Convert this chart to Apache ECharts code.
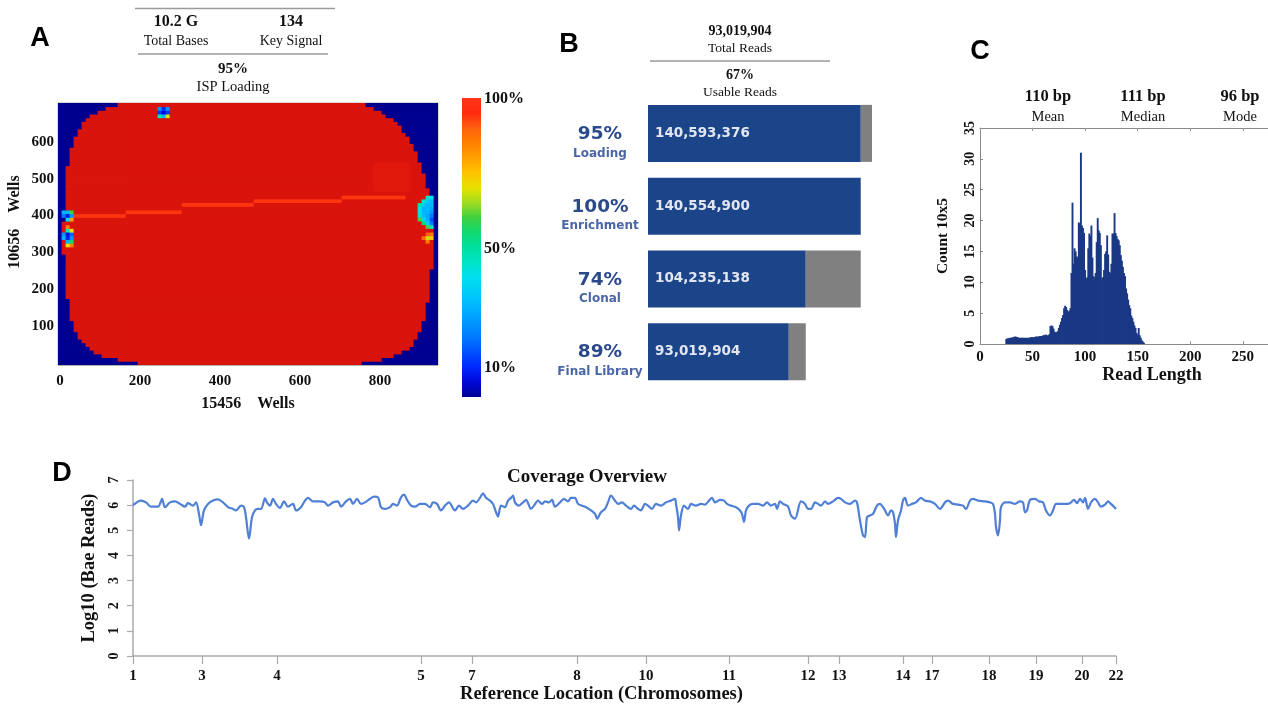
<!DOCTYPE html>
<html><head><meta charset="utf-8">
<script src="https://cdn.jsdelivr.net/npm/echarts@6/dist/echarts.min.js"></script>
<style>html,body{margin:0;padding:0;background:#fff}#c{width:1268px;height:705px}</style>
</head><body><div id="c"></div>
<script>
// ---------------- Panel A: ISP loading map ----------------
const statsA = [['10.2 G', 'Total Bases'], ['134', 'Key Signal']];
const ispLoading = ['95%', 'ISP Loading'];
// red (loaded) extent of each row of wells, rows y = 0,10,...,700
const rowLeft = [200,150,115,92,78,67,58,52,47,43, 40,37,34,32,30,28,27,26,25,24,
  23,22,21,20,19,18,17,17,16,16, 15,15,15,15,15,15,15,15,15,16,
  16,17,17,18,18,19,19,20,20,21, 22,23,24,25,26,27,29,31,33,36,
  39,43,47,52,58,65,74,85,100,122, 155];
const rowRight = [760,805,838,860,875,885,892,898,902,906, 909,912,915,917,919,921,923,925,927,928,
  929,930,931,932,933,934,935,935,936,936, 936,936,936,936,936,936,936,936,936,936,
  936,936,935,934,932,930,928,926,924,922, 920,917,914,911,908,904,900,896,892,887,
  882,876,870,863,855,846,836,824,810,793, 770];
const fillValue = 98.5, backValue = 0;
const streaks = [[40,160,400],[170,300,410],[310,480,430],[490,700,440],[710,860,450]];
const streakValue = 94;
const brightPatches = [[790,870,470,540]];
const brightValue = 97.7;
const spots = [
  [250,690,25],[260,690,10],[270,690,25],[250,680,12],[260,680,5],[270,680,12],[250,670,45],[260,670,30],[270,670,70],
  [10,410,30],[20,410,30],[30,410,60],[10,400,20],[20,400,8],[30,400,25],[20,390,40],[30,390,80],[20,370,85],
  [20,360,45],[30,360,70],[10,350,25],[20,350,6],[30,350,18],[10,340,30],[20,340,8],[30,340,25],
  [20,330,30],[30,330,55],[20,320,70],[30,320,85],
  [920,450,45],[930,450,40],[910,440,45],[920,440,35],[930,440,30],
  [900,430,50],[910,430,35],[920,430,30],[930,430,30],[900,420,40],[910,420,30],[920,420,32],[930,420,28],
  [900,410,40],[910,410,30],[920,410,30],[930,410,25],[900,400,45],[910,400,32],[920,400,28],[930,400,20],
  [900,390,60],[910,390,38],[920,390,30],[930,390,15],[910,380,55],[920,380,35],[930,380,20],[920,370,60],[930,370,45],
  [920,340,68],[930,340,75],[910,340,88],[920,330,85],[930,350,85],[920,350,90]
];
const colorbarTicks = [[100,'100%'],[50,'50%'],[10,'10%']];

// ---------------- Panel B: read funnel ----------------
const statsB = [['93,019,904', 'Total Reads'], ['67%', 'Usable Reads']];
const stageNames = ['Loading', 'Enrichment', 'Clonal', 'Final Library'];
const stagePct = ['95%', '100%', '74%', '89%'];
const stageKept = [140593376, 140554900, 104235138, 93019904];
const stageLost = [7399651, 38476, 36319762, 11215234];

// ---------------- Panel C: read length histogram ----------------
const statsC = [['110 bp', 'Mean'], ['111 bp', 'Median'], ['96 bp', 'Mode']];
const readLenStart = 25;
const readCounts = [
  0.8,0.9,0.9,1.0,1.0,1.0,1.1,1.1,1.2,1.2,
  1.1,1.1,1.0,1.0,1.0,1.0,1.0,1.0,1.0,1.0,
  1.0,1.0,1.0,1.1,1.1,1.1,1.1,1.1,1.2,1.2,
  1.2,1.2,1.3,1.3,1.3,1.4,1.4,1.5,1.5,1.4,
  1.4,1.6,2.9,3.0,2.9,2.5,2.0,1.9,1.9,2.1,
  2.6,3.1,3.6,4.2,4.7,5.8,6.2,6.0,5.5,5.2,
  5.4,5.8,11.5,22.9,13.0,15.5,15.0,14.2,14.0,19.7,
  19.5,31.0,19.2,18.8,18.0,12.0,10.6,10.8,15.5,17.9,
  17.5,19.2,14.0,11.0,10.8,11.5,16.5,20.4,18.4,18.0,
  16.0,10.6,10.8,12.0,14.6,15.0,17.6,14.5,11.7,11.5,
  13.0,17.9,17.9,21.2,18.0,17.5,17.0,16.8,16.0,14.4,
  13.5,12.5,11.5,11.0,9.0,8.2,7.2,6.3,5.8,4.6,
  4.2,3.6,3.0,2.6,1.8,1.5,2.6,1.4,1.0,0.6,
  0.4,0.2];

// ---------------- Panel D: coverage overview ----------------
const chromLabels = ['1','3','4','5','7','8','10','11','12','13','14','17','18','19','20','22'];
const chromPos = [0,69,144,288,339,444,513,596,675,706,770,799,856,903,949,983];
const covPos = [0,8,13,18,25,28,29,32,37,42,47,52,55,60,63,66,68,71,75,80,85,90,95,100,103,108,111,113,116,119,
  122,125,128,132,134,137,140,143,147,151,155,160,163,168,172,175,180,187,192,195,200,205,208,213,217,220,224,228,232,237,
  241,245,248,252,257,260,264,268,271,274,278,282,287,292,297,300,304,308,312,316,322,326,
  330,335,340,343,347,350,353,357,360,363,365,368,372,375,378,380,382,386,390,393,398,401,405,409,412,416,419,422,427,431,
  435,438,442,445,449,453,458,462,464,468,472,475,478,482,485,489,493,498,501,505,508,512,515,519,523,528,533,538,542,543,
  545,546,548,551,555,558,563,568,572,576,579,582,587,591,594,598,603,607,609,611,613,616,620,625,630,634,638,642,644,647,650,655,
  658,662,668,672,675,678,682,685,688,692,695,700,705,708,712,717,722,724,727,730,732,734,737,740,744,747,750,752,755,758,
  760,762,763,765,768,770,772,775,779,783,788,792,797,802,807,812,815,820,825,830,833,837,840,845,852,857,860,862,863,865,
  867,868,872,877,882,887,890,892,894,897,902,906,910,913,917,920,923,927,932,937,941,944,947,950,952,955,958,962,965,968,
  972,975,978,983];
const covVal = [6.00,6.18,6.11,5.94,5.94,6.15,6.25,5.92,6.11,6.15,6.05,5.94,6.08,5.98,6.11,5.65,5.20,5.79,6.05,6.18,6.23,6.11,5.92,5.85,5.79,5.98,5.92,5.52,4.67,5.52,
  5.79,5.85,5.85,6.27,6.11,5.98,6.25,6.05,5.89,6.15,5.94,6.05,5.79,5.92,6.18,6.29,6.15,6.15,6.11,5.98,6.11,6.15,5.94,6.15,6.25,6.05,6.25,6.05,6.11,6.25,
  6.34,6.31,5.92,5.85,5.92,6.05,5.98,6.31,6.42,6.21,5.98,5.94,6.05,6.05,5.92,6.11,6.05,5.79,5.98,6.11,5.79,5.98,
  5.85,5.98,6.18,6.11,6.29,6.47,6.29,6.18,6.05,5.72,5.55,5.98,5.92,6.18,6.29,6.38,6.11,5.98,6.11,6.21,5.85,5.98,6.18,6.05,6.15,6.11,6.21,5.94,6.11,6.25,
  6.15,6.29,6.29,6.05,5.98,5.92,5.79,5.65,5.46,5.72,5.85,6.11,6.38,6.18,6.05,6.11,5.98,5.85,5.98,5.85,5.79,6.05,5.98,5.85,6.05,5.98,6.11,6.18,6.25,6.05,
  5.52,5.00,5.59,5.98,5.85,6.05,5.98,6.05,6.02,6.18,6.29,6.11,6.21,6.18,6.05,5.98,5.92,5.79,5.65,5.33,5.79,5.98,6.05,6.05,5.98,6.11,5.98,6.05,5.85,6.15,6.05,5.95,
  5.59,5.46,6.15,6.05,5.85,5.85,6.11,6.05,5.98,6.15,6.05,6.15,6.29,6.25,6.11,6.05,6.18,6.11,5.39,4.80,4.73,5.52,5.59,5.65,5.98,6.05,5.92,5.79,5.59,5.79,
  5.72,5.26,4.73,5.39,5.79,6.18,6.29,5.98,6.05,6.11,6.29,6.18,6.15,6.05,5.85,6.11,6.18,6.05,6.02,5.98,5.85,6.18,6.25,6.18,6.15,6.11,6.05,5.65,5.13,4.80,
  5.39,5.92,6.11,6.11,6.05,6.15,6.11,5.72,5.79,6.21,6.25,6.15,6.11,5.79,5.59,5.79,6.05,6.05,6.05,6.08,6.21,6.08,6.25,6.11,6.29,5.85,6.11,6.25,6.11,5.94,
  6.02,6.15,6.05,5.85];

// ---------------- styles ----------------
const SERIF = '"Liberation Serif", "DejaVu Serif", serif';
const SANS = '"Liberation Sans", Arial, sans-serif';
const DJV = '"DejaVu Sans", sans-serif';
const jetColors = ['#000090','#0008d8','#0028ff','#0050ff','#0078ff','#0098ff','#00b4ff','#00ccf8','#00e0f0','#00e4c8',
  '#00e0a0','#10d870','#40d040','#a0dc20','#e8e000','#ffc400','#ffa000','#ff8000','#ff6010','#ff2a10','#c80a0a'];

// ---------------- build heatmap cells ----------------
const wellCols = []; for (let x = 0; x <= 940; x += 10) wellCols.push(String(x));
const wellRows = []; for (let y = 0; y <= 700; y += 10) wellRows.push(String(y));
const nC = wellCols.length;
const heatVals = [];
for (let r = 0; r < wellRows.length; r++) {
  for (let c = 0; c < nC; c++) {
    const xc = c * 10 + 5;
    heatVals.push(xc >= rowLeft[r] && xc <= rowRight[r] ? fillValue : backValue);
  }
}
const isIn = (c, r) => { const xc = c * 10 + 5; return xc >= rowLeft[r] && xc <= rowRight[r]; };
brightPatches.forEach(([x0, x1, y0, y1]) => {
  for (let r = y0 / 10; r <= y1 / 10; r++) for (let c = x0 / 10; c <= x1 / 10; c++) if (isIn(c, r)) heatVals[r * nC + c] = brightValue;
});
streaks.forEach(([x0, x1, y]) => {
  const r = y / 10;
  for (let c = x0 / 10; c <= x1 / 10; c++) if (isIn(c, r)) heatVals[r * nC + c] = streakValue;
});
spots.forEach(([x, y, v]) => { heatVals[(y / 10) * nC + x / 10] = v; });
const heatData = heatVals.map((v, i) => [i % nC, Math.floor(i / nC), v]);

// ---------------- graphics ----------------
const g = [];
const txt = (x, y, s, font, fill, align) => g.push({type: 'text', x, y, silent: true,
  style: {text: s, font, fill: fill || '#111', align: align || 'center', verticalAlign: 'middle'}});
const hline = (x1, x2, y) => g.push({type: 'line', silent: true, shape: {x1, y1: y, x2, y2: y}, style: {stroke: '#9a9a9a', lineWidth: 1.5}});
txt(40, 39, 'A', `bold 27px ${SANS}`, '#000');
txt(569, 45, 'B', `bold 27px ${SANS}`, '#000');
txt(980, 52, 'C', `bold 27px ${SANS}`, '#000');
txt(62, 474, 'D', `bold 27px ${SANS}`, '#000');
// A stats
hline(135, 335, 8.5);
[176, 291].forEach((x, i) => { txt(x, 22, statsA[i][0], `bold 16px ${SERIF}`); txt(x, 41, statsA[i][1], `14px ${SERIF}`); });
hline(138, 328, 54);
txt(233, 69, ispLoading[0], `bold 15px ${SERIF}`); txt(233, 87, ispLoading[1], `14.5px ${SERIF}`);
// colorbar
const cbTop = 98, cbBot = 397;
const cbStops = jetColors.slice(0, 20).map((c, i) => ({offset: i / 20, color: c}));
cbStops.push({offset: 1, color: '#ff3518'});
g.push({type: 'rect', silent: true, shape: {x: 462, y: cbTop, width: 19, height: cbBot - cbTop},
  style: {fill: new echarts.graphic.LinearGradient(0, 1, 0, 0, cbStops)}});
colorbarTicks.forEach(([v, s]) => txt(484, cbBot - v / 100 * (cbBot - cbTop) + 1, s, `bold 16px ${SERIF}`, '#111', 'left'));
// B stats
txt(740, 31, statsB[0][0], `bold 14px ${SERIF}`); txt(740, 48, statsB[0][1], `13.5px ${SERIF}`);
hline(650, 830, 61);
txt(740, 75, statsB[1][0], `bold 14px ${SERIF}`); txt(740, 92, statsB[1][1], `13.5px ${SERIF}`);
// C stats
[1048, 1143, 1240].forEach((x, i) => { txt(x, 97, statsC[i][0], `bold 16.5px ${SERIF}`); txt(x, 117, statsC[i][1], `14.5px ${SERIF}`); });
// D title
txt(587, 477, 'Coverage Overview', `bold 19px ${SERIF}`);

const axLbl = (size) => ({fontFamily: SERIF, fontWeight: 'bold', fontSize: size, color: '#111'});

const option = {
  animation: false,
  backgroundColor: '#fff',
  grid: [
    {left: 58, top: 103, width: 380, height: 262, show: true, borderColor: '#b0b0b0', borderWidth: 1},
    {left: 648, top: 97, width: 224, height: 291},
    {left: 980, top: 128, width: 288, height: 216},
    {left: 133, top: 480, width: 983, height: 178}
  ],
  visualMap: [{type: 'continuous', show: false, seriesIndex: 0, dimension: 2, min: 0, max: 100, inRange: {color: jetColors}}],
  xAxis: [
    {type: 'category', gridIndex: 0, data: wellCols, axisTick: {show: false},
     axisLine: {lineStyle: {color: '#b0b0b0'}},
     axisLabel: Object.assign(axLbl(15), {margin: 9, interval: (i, v) => Number(v) % 200 === 0}),
     name: '15456    Wells', nameLocation: 'middle', nameGap: 31, nameTextStyle: axLbl(16)},
    {type: 'value', gridIndex: 1, min: 0, max: 148000000, show: false},
    {type: 'value', gridIndex: 2, min: 0, max: 274, interval: 50,
     axisLine: {lineStyle: {color: '#888'}}, axisTick: {inside: true, length: 3, lineStyle: {color: '#999'}},
     splitLine: {show: false},
     axisLabel: Object.assign(axLbl(15), {margin: 6, showMaxLabel: false}),
     name: 'Read Length', nameLocation: 'middle', nameGap: 22,
     nameTextStyle: Object.assign(axLbl(18), {padding: [0, 0, 0, 56]})},
    {type: 'value', gridIndex: 2, position: 'top', min: 0, max: 274, interval: 50,
     axisLine: {lineStyle: {color: '#888', width: 1.2}}, axisTick: {inside: true, length: 3, lineStyle: {color: '#999'}},
     axisLabel: {show: false}, splitLine: {show: false}},
    {type: 'value', gridIndex: 3, min: 0, max: 983,
     axisLine: {lineStyle: {color: '#aaa', width: 1.5}},
     axisTick: {customValues: chromPos, length: 8, lineStyle: {color: '#aaa', width: 1.2}},
     axisLabel: Object.assign(axLbl(15), {margin: 13, customValues: chromPos,
       formatter: v => chromLabels[chromPos.indexOf(v)]}),
     splitLine: {show: false},
     name: 'Reference Location (Chromosomes)', nameLocation: 'middle', nameGap: 29,
     nameTextStyle: Object.assign(axLbl(18.5), {padding: [0, 46, 0, 0]})}
  ],
  yAxis: [
    {type: 'category', gridIndex: 0, data: wellRows, axisTick: {show: false},
     axisLine: {lineStyle: {color: '#b0b0b0'}},
     axisLabel: Object.assign(axLbl(15), {margin: 4, interval: (i, v) => Number(v) % 100 === 0 && Number(v) >= 100 && Number(v) <= 600}),
     name: '10656    Wells', nameLocation: 'middle', nameGap: 35, nameRotate: 90,
     nameTextStyle: Object.assign(axLbl(16), {padding: [0, 0, 0, 24]})},
    {type: 'category', gridIndex: 1, data: stageNames, inverse: true,
     axisLine: {show: false}, axisTick: {show: false},
     axisLabel: {margin: 48, align: 'center', padding: [18, 0, 0, 0],
       formatter: (v, i) => `{p|${stagePct[i]}}\n{n|${v}}`,
       rich: {p: {fontFamily: DJV, fontWeight: 'bold', fontSize: 18.5, color: '#2b4a8c', lineHeight: 22, align: 'center'},
              n: {fontFamily: DJV, fontWeight: 'bold', fontSize: 12, color: '#4a66a6', lineHeight: 16, align: 'center'}}}},
    {type: 'value', gridIndex: 2, min: 0, max: 35, interval: 5,
     axisLine: {show: true, lineStyle: {color: '#888'}}, axisTick: {show: true, inside: true, length: 3},
     splitLine: {show: false},
     axisLabel: Object.assign(axLbl(14), {rotate: 90, margin: 3}),
     name: 'Count 10x5', nameLocation: 'middle', nameGap: 29, nameRotate: 90, nameTextStyle: axLbl(15.5)},
    {type: 'value', gridIndex: 3, min: 0, max: 7, interval: 1,
     axisLine: {show: true, lineStyle: {color: '#aaa', width: 1.5}},
     axisTick: {show: true, length: 6, lineStyle: {color: '#aaa', width: 1.2}},
     splitLine: {show: false},
     axisLabel: Object.assign(axLbl(14), {rotate: 90, margin: 12}),
     name: 'Log10 (Bae Reads)', nameLocation: 'middle', nameGap: 30, nameRotate: 90, nameTextStyle: axLbl(18.5)}
  ],
  series: [
    {type: 'custom', xAxisIndex: 0, yAxisIndex: 0, data: heatData, progressive: 0, silent: true, clip: true,
     encode: {x: 0, y: 1},
     renderItem: (params, api) => {
       const p = api.coord([api.value(0), api.value(1)]);
       const s = api.size([1, 1]);
       return {type: 'rect', shape: {x: p[0] - s[0] / 2 - 0.4, y: p[1] - s[1] / 2 - 0.4, width: s[0] + 0.8, height: s[1] + 0.8},
         style: {fill: api.visual('color')}};
     }},
    {type: 'bar', xAxisIndex: 1, yAxisIndex: 1, stack: 'reads', data: stageKept, barWidth: 57,
     itemStyle: {color: '#1c4589'},
     label: {show: true, position: 'insideLeft', distance: 7, color: '#e2e6f0',
       fontFamily: DJV, fontWeight: 'bold', fontSize: 13.5,
       formatter: p => p.value.toLocaleString('en-US')}},
    {type: 'bar', xAxisIndex: 1, yAxisIndex: 1, stack: 'reads', data: stageLost, barWidth: 57,
     itemStyle: {color: '#808080'}},
    {type: 'bar', xAxisIndex: 2, yAxisIndex: 2, barWidth: 1.9,
     data: readCounts.map((v, i) => [readLenStart + i, v]), itemStyle: {color: '#1a3884'}},
    {type: 'line', xAxisIndex: 4, yAxisIndex: 3, data: covPos.map((p, i) => [p, covVal[i]]),
     showSymbol: false, smooth: 0.3, lineStyle: {color: '#4f80d6', width: 2.2}}
  ],
  graphic: g
};
const chart = echarts.init(document.getElementById('c'), null, {renderer: 'canvas'});
chart.setOption(option);
</script></body></html>
